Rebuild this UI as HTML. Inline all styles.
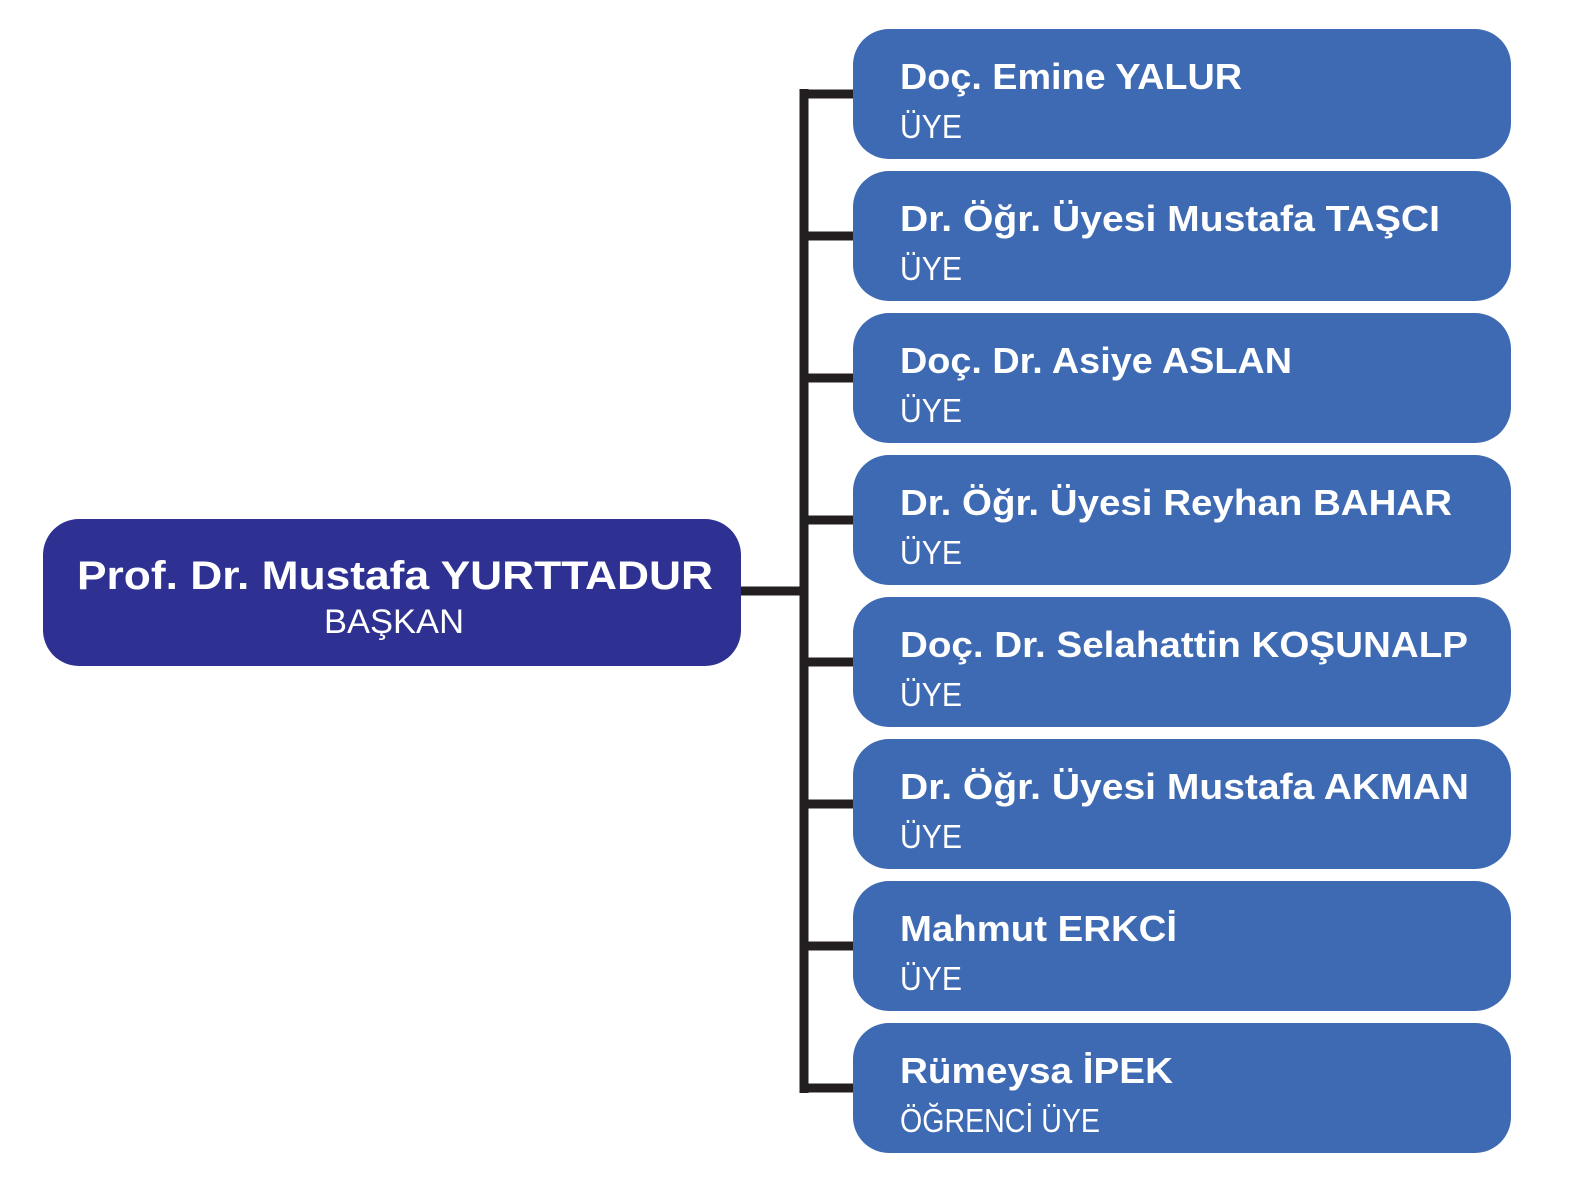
<!DOCTYPE html>
<html><head><meta charset="utf-8"><style>html,body{margin:0;padding:0;background:#fff}svg{display:block}</style></head>
<body>
<svg width="1581" height="1200" viewBox="0 0 1581 1200" xmlns="http://www.w3.org/2000/svg" font-family="'Liberation Sans', sans-serif">
<g stroke="#231f20" stroke-width="9" fill="none">
<path d="M741 591 H804 M804 89 V1093 M800 94 H854 M804 236 H854 M804 378 H854 M804 520 H854 M804 662 H854 M804 804 H854 M804 946 H854 M800 1088 H854"/>
</g>
<rect x="43" y="519" width="698" height="147" rx="36" fill="#2e3192"/>
<text x="77" y="589" font-size="40" font-weight="bold" fill="#fff" textLength="636" lengthAdjust="spacingAndGlyphs">Prof. Dr. Mustafa YURTTADUR</text>
<text x="324" y="633" font-size="34" fill="#fff" textLength="140" lengthAdjust="spacingAndGlyphs">BAŞKAN</text>
<g fill="#3e6ab3">
<rect x="853" y="29" width="658" height="130" rx="36"/>
<rect x="853" y="171" width="658" height="130" rx="36"/>
<rect x="853" y="313" width="658" height="130" rx="36"/>
<rect x="853" y="455" width="658" height="130" rx="36"/>
<rect x="853" y="597" width="658" height="130" rx="36"/>
<rect x="853" y="739" width="658" height="130" rx="36"/>
<rect x="853" y="881" width="658" height="130" rx="36"/>
<rect x="853" y="1023" width="658" height="130" rx="36"/>
</g>
<g fill="#fff" font-size="36" font-weight="bold">
<text x="900" y="89" textLength="342" lengthAdjust="spacingAndGlyphs">Doç. Emine YALUR</text>
<text x="900" y="231" textLength="540" lengthAdjust="spacingAndGlyphs">Dr. Öğr. Üyesi  Mustafa TAŞCI</text>
<text x="900" y="373" textLength="392" lengthAdjust="spacingAndGlyphs">Doç. Dr. Asiye ASLAN</text>
<text x="900" y="515" textLength="552" lengthAdjust="spacingAndGlyphs">Dr. Öğr. Üyesi Reyhan BAHAR</text>
<text x="900" y="657" textLength="568" lengthAdjust="spacingAndGlyphs">Doç. Dr. Selahattin KOŞUNALP</text>
<text x="900" y="799" textLength="569" lengthAdjust="spacingAndGlyphs">Dr. Öğr. Üyesi Mustafa AKMAN</text>
<text x="900" y="941" textLength="277" lengthAdjust="spacingAndGlyphs">Mahmut ERKCİ</text>
<text x="900" y="1083" textLength="273" lengthAdjust="spacingAndGlyphs">Rümeysa İPEK</text>
</g>
<g fill="#fff" font-size="33">
<text x="900" y="138" textLength="62" lengthAdjust="spacingAndGlyphs">ÜYE</text>
<text x="900" y="280" textLength="62" lengthAdjust="spacingAndGlyphs">ÜYE</text>
<text x="900" y="422" textLength="62" lengthAdjust="spacingAndGlyphs">ÜYE</text>
<text x="900" y="564" textLength="62" lengthAdjust="spacingAndGlyphs">ÜYE</text>
<text x="900" y="706" textLength="62" lengthAdjust="spacingAndGlyphs">ÜYE</text>
<text x="900" y="848" textLength="62" lengthAdjust="spacingAndGlyphs">ÜYE</text>
<text x="900" y="990" textLength="62" lengthAdjust="spacingAndGlyphs">ÜYE</text>
<text x="900" y="1132" textLength="200" lengthAdjust="spacingAndGlyphs">ÖĞRENCİ ÜYE</text>
</g>
</svg>
</body></html>
